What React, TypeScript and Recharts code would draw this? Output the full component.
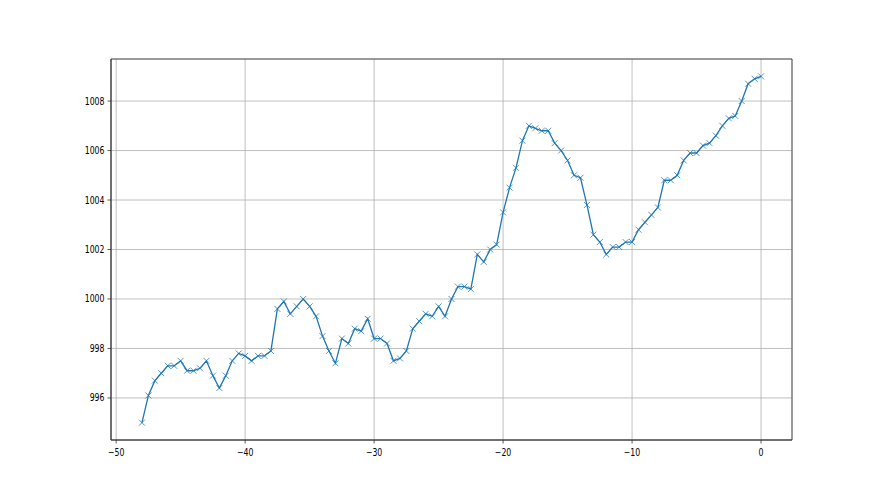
import React from 'react';
import { LineChart, Line, XAxis, YAxis, CartesianGrid, ReferenceArea } from 'recharts';

const xValues: number[] = [];
for (let i = 0; i <= 96; i++) xValues.push(-48 + i * 0.5);

const pressure: number[] = [
  995.0, 996.1, 996.7, 997.0, 997.3, 997.3, 997.5, 997.1, 997.1, 997.2,
  997.5, 996.9, 996.4, 996.9, 997.5, 997.8, 997.7, 997.5, 997.7, 997.7,
  997.9, 999.6, 999.9, 999.4, 999.7, 1000.0, 999.7, 999.3, 998.5, 997.9,
  997.4, 998.4, 998.2, 998.8, 998.7, 999.2, 998.4, 998.4, 998.2, 997.5,
  997.6, 997.9, 998.8, 999.1, 999.4, 999.3, 999.7, 999.3, 1000.0, 1000.5,
  1000.5, 1000.4, 1001.8, 1001.5, 1002.0, 1002.2, 1003.5, 1004.5, 1005.3, 1006.4,
  1007.0, 1006.9, 1006.8, 1006.8, 1006.3, 1006.0, 1005.6, 1005.0, 1004.9, 1003.8,
  1002.6, 1002.3, 1001.8, 1002.1, 1002.1, 1002.3, 1002.3, 1002.8, 1003.1, 1003.4,
  1003.7, 1004.8, 1004.8, 1005.0, 1005.6, 1005.9, 1005.9, 1006.2, 1006.3, 1006.6,
  1007.0, 1007.3, 1007.4, 1008.0, 1008.7, 1008.9, 1009.0,
];

const xTicks = [-50, -40, -30, -20, -10, 0];
const yTicks = [996, 998, 1000, 1002, 1004, 1006, 1008];

const data = xValues.map((x, i) => ({ x, y: pressure[i] }));

const COLOR = '#1f77b4';
const SPINE = '#333';
const fmt = (v: number) => String(v).replace('-', '\u2212');

const XDot = (props: any) => {
  const { cx, cy, index } = props;
  if (cx == null || cy == null) return <g key={`d${index}`} />;
  const s = 3;
  return (
    <g key={`d${index}`} opacity={0.75}>
      <line x1={cx - s} y1={cy - s} x2={cx + s} y2={cy + s} stroke={COLOR} strokeWidth={1} />
      <line x1={cx - s} y1={cy + s} x2={cx + s} y2={cy - s} stroke={COLOR} strokeWidth={1} />
    </g>
  );
};

const XTick = (props: any) => {
  const { x, y, payload } = props;
  return (
    <text
      transform={`translate(${x},${y + 10}) scale(0.78,1)`}
      textAnchor="middle"
      fontSize={10}
      fontFamily="DejaVu Sans"
      fill="#000"
    >
      {fmt(payload.value)}
    </text>
  );
};

const YTick = (props: any) => {
  const { x, y, payload } = props;
  return (
    <text
      transform={`translate(${x - 1},${y + 3.5}) scale(0.78,1)`}
      textAnchor="end"
      fontSize={10}
      fontFamily="DejaVu Sans"
      fill="#000"
    >
      {fmt(payload.value)}
    </text>
  );
};

export default function App() {
  return (
    <div style={{ position: 'absolute', left: 0, top: 0, background: '#fff' }}>
      <LineChart
        width={880}
        height={495}
        data={data}
        margin={{ top: 59, right: 88, bottom: 25, left: 61 }}
      >
        <CartesianGrid stroke="#b0b0b0" strokeWidth={0.8} />
        <XAxis
          dataKey="x"
          type="number"
          domain={[-50.4, 2.4]}
          ticks={xTicks}
          allowDataOverflow
          height={30}
          tickSize={3.5}
          tick={<XTick />}
          stroke={SPINE}
          axisLine={{ stroke: SPINE, strokeWidth: 0.8 }}
          tickLine={{ stroke: SPINE, strokeWidth: 0.8 }}
        />
        <YAxis
          type="number"
          domain={[994.3, 1009.7]}
          ticks={yTicks}
          allowDataOverflow
          width={50}
          tickSize={3.5}
          tick={<YTick />}
          stroke={SPINE}
          axisLine={{ stroke: SPINE, strokeWidth: 0.8 }}
          tickLine={{ stroke: SPINE, strokeWidth: 0.8 }}
        />
        <ReferenceArea
          x1={-50.4}
          x2={2.4}
          y1={994.3}
          y2={1009.7}
          fill="none"
          fillOpacity={0}
          stroke={SPINE}
          strokeWidth={0.8}
          strokeOpacity={1}
        />
        <Line
          dataKey="y"
          stroke={COLOR}
          strokeWidth={1.3}
          dot={XDot}
          activeDot={false}
          isAnimationActive={false}
        />
      </LineChart>
    </div>
  );
}
